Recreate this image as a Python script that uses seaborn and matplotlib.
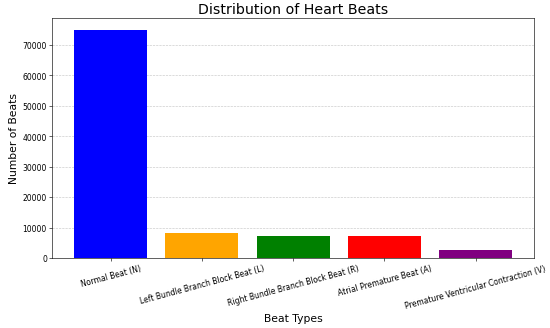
import matplotlib
matplotlib.use("Agg")
import matplotlib.pyplot as plt
import seaborn as sns
import pandas as pd

categories = ["Normal Beat (N)", "Left Bundle Branch Block Beat (L)",
              "Right Bundle Branch Block Beat (R)", "Atrial Premature Beat (A)",
              "Premature Ventricular Contraction (V)"]
counts = [75011, 8071, 7255, 7129, 2546]
colors = ["blue", "orange", "green", "red", "purple"]

df = pd.DataFrame({"Beat Types": categories, "Number of Beats": counts})

fig, ax = plt.subplots(figsize=(10, 5.98), dpi=55)
sns.barplot(data=df, x="Beat Types", y="Number of Beats", hue="Beat Types",
            palette=colors, saturation=1, legend=False, ax=ax, width=0.8)
ax.set_xlim(-0.64, 4.64)
ax.set_title("Distribution of Heart Beats", fontsize=18.5)
ax.set_xlabel("Beat Types", fontsize=14)
ax.set_ylabel("Number of Beats", fontsize=14)
ax.tick_params(axis="x", labelrotation=15)
ax.grid(axis="y", linestyle="--", alpha=0.7)
ax.set_axisbelow(True)
fig.subplots_adjust(left=0.095, right=0.971, top=0.942, bottom=0.213)
fig.savefig("out.png", dpi=55)
